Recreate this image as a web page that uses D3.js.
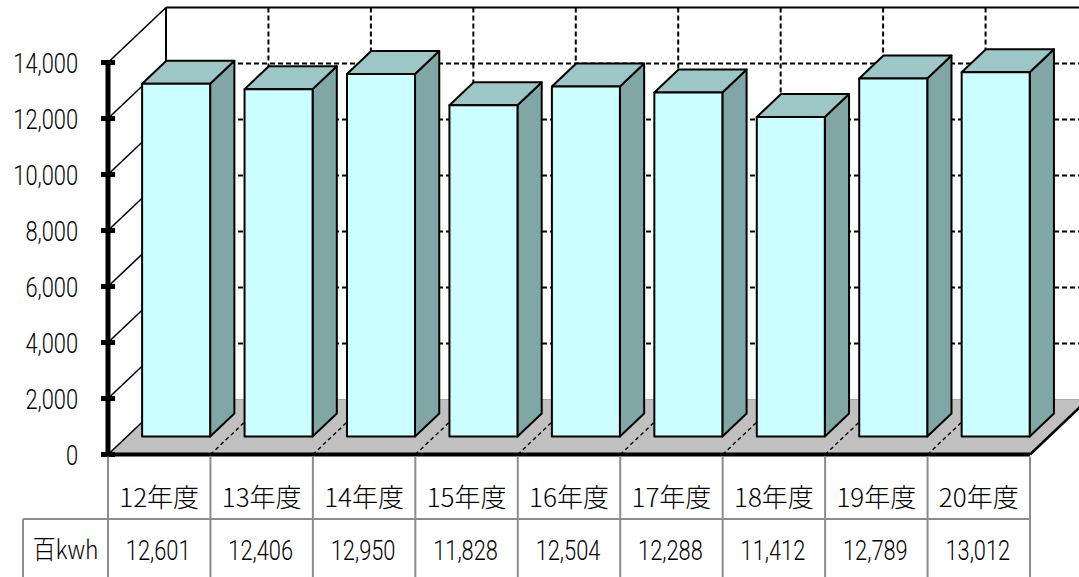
<!DOCTYPE html>
<html>
<head>
<meta charset="utf-8">
<script src="https://cdn.jsdelivr.net/npm/d3@7"></script>
<style>
  html, body { margin: 0; padding: 0; background: #fff; }
  svg { display: block; }
  .num { font-family: Roboto, "Liberation Sans", sans-serif; font-weight: 300; font-size: 28px; fill: #000; }
  .cjk { font-family: "Noto Sans CJK JP", "Noto Sans", sans-serif; font-weight: 300; font-size: 26px; fill: #000; }
</style>
</head>
<body>
<svg id="chart" width="1079" height="577"></svg>
<script>
// Annual electricity use by fiscal year (unit: 百kwh)
const categories = ["12年度", "13年度", "14年度", "15年度", "16年度", "17年度", "18年度", "19年度", "20年度"];
const values = [12601, 12406, 12950, 11828, 12504, 12288, 11412, 12789, 13012];
const yTicks = [0, 2000, 4000, 6000, 8000, 10000, 12000, 14000];
const unitLabel = "百kwh";

const svg = d3.select("#chart");

// Plot frame: front plane plus an oblique depth offset
const X0 = 108, X1 = 1030;
const DX = 58, DY = -55;           // offset from front plane to back wall
const BAR_T0 = 0.327, BAR_T1 = 0.745; // bar front / back depth fractions

const x = d3.scaleBand().domain(categories).range([X0, X1])
  .paddingInner(0.336).paddingOuter(0.168).align(0.44);
const cell = d3.scaleBand().domain(categories).range([X0, X1]).padding(0);
const y = d3.scaleLinear().domain([0, 14000]).range([454.5, 62.5]);

const proj = (px, v, t) => [px + DX * t, y(v) + DY * t];
const poly = pts => pts.map(p => p.join(",")).join(" ");

const yMax = d3.max(yTicks);

// Back wall
const wall = svg.append("g");
wall.append("polygon")
  .attr("points", poly([proj(X0, 0, 1), proj(X1, 0, 1), proj(X1, yMax, 1), proj(X0, yMax, 1)]))
  .attr("fill", "#fff");
// horizontal dashed gridlines on the back wall
wall.selectAll("line.hgrid").data(yTicks.filter(v => v > 0 && v < yMax)).join("line")
  .attr("class", "hgrid")
  .attr("x1", d => proj(X0, d, 1)[0]).attr("y1", d => proj(X0, d, 1)[1])
  .attr("x2", d => proj(X1, d, 1)[0]).attr("y2", d => proj(X1, d, 1)[1])
  .attr("stroke", "#000").attr("stroke-width", 2).attr("stroke-dasharray", "5,3");
// vertical dashed lines at category boundaries
wall.selectAll("line.vgrid").data(categories.slice(1)).join("line")
  .attr("class", "vgrid")
  .attr("x1", d => proj(cell(d), yMax, 1)[0]).attr("y1", d => proj(cell(d), yMax, 1)[1])
  .attr("x2", d => proj(cell(d), 0, 1)[0]).attr("y2", d => proj(cell(d), 0, 1)[1])
  .attr("stroke", "#000").attr("stroke-width", 2).attr("stroke-dasharray", "5,3");
// wall top edge and left edge
wall.append("line")
  .attr("x1", proj(X0, yMax, 1)[0]).attr("y1", proj(X0, yMax, 1)[1])
  .attr("x2", proj(X1, yMax, 1)[0]).attr("y2", proj(X1, yMax, 1)[1])
  .attr("stroke", "#000").attr("stroke-width", 2);
wall.append("line")
  .attr("x1", proj(X0, yMax, 1)[0]).attr("y1", proj(X0, yMax, 1)[1])
  .attr("x2", proj(X0, 0, 1)[0]).attr("y2", proj(X0, 0, 1)[1])
  .attr("stroke", "#000").attr("stroke-width", 2);

// Left side wall: oblique solid gridlines from the axis back to the wall
wall.selectAll("line.side").data(yTicks.filter(v => v > 0)).join("line")
  .attr("class", "side")
  .attr("x1", d => proj(X0, d, 0)[0]).attr("y1", d => proj(X0, d, 0)[1])
  .attr("x2", d => proj(X0, d, 1)[0]).attr("y2", d => proj(X0, d, 1)[1])
  .attr("stroke", "#000").attr("stroke-width", 1.6);

// Floor
const floor = svg.append("g");
floor.append("polygon")
  .attr("points", poly([proj(X0, 0, 0), proj(X1, 0, 0), proj(X1, 0, 1), proj(X0, 0, 1)]))
  .attr("fill", "#c0c0c0").attr("stroke", "#a8a8a8").attr("stroke-width", 1);
floor.selectAll("line.div").data(categories.slice(1)).join("line")
  .attr("class", "div")
  .attr("x1", d => proj(cell(d), 0, 0)[0]).attr("y1", d => proj(cell(d), 0, 0)[1])
  .attr("x2", d => proj(cell(d), 0, 1)[0]).attr("y2", d => proj(cell(d), 0, 1)[1])
  .attr("stroke", "#000").attr("stroke-width", 1.4).attr("stroke-dasharray", "4,3");
floor.append("line")
  .attr("x1", proj(X0, 0, 0)[0]).attr("y1", proj(X0, 0, 0)[1])
  .attr("x2", proj(X0, 0, 1)[0]).attr("y2", proj(X0, 0, 1)[1])
  .attr("stroke", "#000").attr("stroke-width", 1.6);
floor.append("line")
  .attr("x1", proj(X1, 0, 0)[0]).attr("y1", proj(X1, 0, 0)[1])
  .attr("x2", proj(X1, 0, 1)[0]).attr("y2", proj(X1, 0, 1)[1])
  .attr("stroke", "#000").attr("stroke-width", 2.5);

// Bars: side, top and front faces
const bars = svg.append("g").selectAll("g.bar")
  .data(categories.map((c, i) => ({ c, v: values[i] })))
  .join("g").attr("class", "bar")
  .attr("stroke", "#000").attr("stroke-width", 2).attr("stroke-linejoin", "round");
bars.append("polygon")
  .attr("points", d => {
    const a = x(d.c) + x.bandwidth();
    return poly([proj(a, 0, BAR_T0), proj(a, 0, BAR_T1), proj(a, d.v, BAR_T1), proj(a, d.v, BAR_T0)]);
  })
  .attr("fill", "#80a6a6");
bars.append("polygon")
  .attr("points", d => {
    const a = x(d.c), b = a + x.bandwidth();
    return poly([proj(a, d.v, BAR_T0), proj(b, d.v, BAR_T0), proj(b, d.v, BAR_T1), proj(a, d.v, BAR_T1)]);
  })
  .attr("fill", "#9dc7c7");
bars.append("polygon")
  .attr("points", d => {
    const a = x(d.c), b = a + x.bandwidth();
    return poly([proj(a, 0, BAR_T0), proj(b, 0, BAR_T0), proj(b, d.v, BAR_T0), proj(a, d.v, BAR_T0)]);
  })
  .attr("fill", "#ccffff");

// Value axis
const axis = svg.append("g");
axis.append("line")
  .attr("x1", X0).attr("x2", X0).attr("y1", y(yMax) - 2).attr("y2", y(0) + 2)
  .attr("stroke", "#000").attr("stroke-width", 5);
axis.selectAll("line.tick").data(yTicks).join("line")
  .attr("class", "tick")
  .attr("x1", X0 - 7).attr("x2", X0 + 7).attr("y1", d => y(d)).attr("y2", d => y(d))
  .attr("stroke", "#000").attr("stroke-width", 5);
const fmt = d3.format(",");
axis.selectAll("g.lab").data(yTicks).join("g")
  .attr("class", "lab")
  .attr("transform", d => `translate(78,${y(d)}) scale(0.78,1)`)
  .append("text").attr("class", "num")
  .attr("text-anchor", "end").attr("dy", "0.36em")
  .text(d => fmt(d));

// Category axis base line
svg.append("line")
  .attr("x1", X0 - 2).attr("x2", X1).attr("y1", y(0)).attr("y2", y(0))
  .attr("stroke", "#000").attr("stroke-width", 4);

// Data table
const table = svg.append("g").attr("stroke", "#8c8c8c").attr("stroke-width", 2);
const ROW1 = 519, BOTTOM = 577, LEFT = 23;
table.selectAll("line.col").data(d3.range(categories.length + 1)).join("line")
  .attr("class", "col")
  .attr("x1", i => X0 + i * cell.step()).attr("x2", i => X0 + i * cell.step())
  .attr("y1", y(0) + 2).attr("y2", BOTTOM);
table.append("line").attr("x1", LEFT).attr("x2", X1).attr("y1", ROW1).attr("y2", ROW1);
table.append("line").attr("x1", LEFT).attr("x2", LEFT).attr("y1", ROW1).attr("y2", BOTTOM);

svg.append("g").selectAll("text").data(categories).join("text")
  .attr("class", "cjk")
  .attr("x", d => cell(d) + cell.bandwidth() / 2).attr("y", 498)
  .attr("text-anchor", "middle").attr("dy", "0.36em")
  .text(d => d);

svg.append("g").selectAll("g").data(categories.map((c, i) => ({ c, v: values[i] }))).join("g")
  .attr("transform", d => `translate(${cell(d.c) + cell.bandwidth() / 2 - 1},550) scale(0.78,1)`)
  .append("text").attr("class", "num")
  .attr("text-anchor", "middle").attr("dy", "0.36em")
  .text(d => fmt(d.v));

svg.append("g").attr("transform", `translate(${(LEFT + X0) / 2},550) scale(0.88,1)`)
  .append("text").attr("class", "cjk")
  .attr("text-anchor", "middle").attr("dy", "0.36em")
  .text(unitLabel);
</script>
</body>
</html>
